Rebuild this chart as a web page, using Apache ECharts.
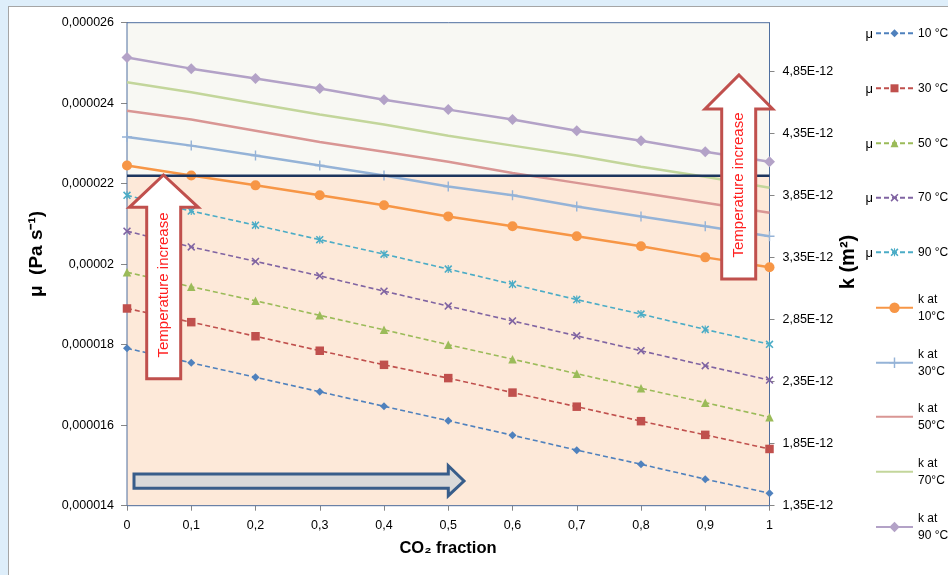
<!DOCTYPE html>
<html>
<head>
<meta charset="utf-8">
<script src="https://cdn.jsdelivr.net/npm/echarts@6/dist/echarts.min.js"></script>
<style>
html,body{margin:0;padding:0;background:#deeefa;overflow:hidden;}
#frame{position:absolute;left:8px;top:6px;width:940px;height:569px;background:#ffffff;border-left:1px solid #a5a5a5;border-top:1px solid #a5a5a5;box-sizing:border-box;}
#chart{position:absolute;left:0;top:0;width:948px;height:575px;}
</style>
</head>
<body>
<div id="frame"></div>
<div id="chart"></div>
<script>
// ---------------- DATA ----------------
const co2Fraction = [0, 0.1, 0.2, 0.3, 0.4, 0.5, 0.6, 0.7, 0.8, 0.9, 1];

// Viscosity mu (Pa s) — left axis
const muAt10 = [1.791e-5, 1.755e-5, 1.719e-5, 1.683e-5, 1.647e-5, 1.611e-5, 1.575e-5, 1.538e-5, 1.503e-5, 1.466e-5, 1.431e-5];
const muAt30 = [1.890e-5, 1.856e-5, 1.821e-5, 1.785e-5, 1.750e-5, 1.717e-5, 1.681e-5, 1.646e-5, 1.610e-5, 1.576e-5, 1.541e-5];
const muAt50 = [1.980e-5, 1.944e-5, 1.909e-5, 1.873e-5, 1.837e-5, 1.800e-5, 1.764e-5, 1.728e-5, 1.692e-5, 1.656e-5, 1.620e-5];
const muAt70 = [2.082e-5, 2.043e-5, 2.007e-5, 1.971e-5, 1.933e-5, 1.896e-5, 1.859e-5, 1.822e-5, 1.785e-5, 1.748e-5, 1.712e-5];
const muAt90 = [2.171e-5, 2.132e-5, 2.097e-5, 2.061e-5, 2.025e-5, 1.988e-5, 1.950e-5, 1.912e-5, 1.876e-5, 1.838e-5, 1.801e-5];

// Permeability k, in units of 1E-12 m² — right axis
const kAt10_e12 = [4.09, 4.01, 3.93, 3.85, 3.77, 3.68, 3.60, 3.52, 3.44, 3.35, 3.27];
const kAt30_e12 = [4.32, 4.25, 4.17, 4.09, 4.01, 3.92, 3.85, 3.76, 3.68, 3.60, 3.52];
const kAt50_e12 = [4.53, 4.46, 4.37, 4.28, 4.20, 4.12, 4.03, 3.95, 3.87, 3.79, 3.71];
const kAt70_e12 = [4.76, 4.68, 4.59, 4.50, 4.42, 4.33, 4.25, 4.17, 4.08, 4.00, 3.91];
const kAt90_e12 = [4.96, 4.87, 4.79, 4.71, 4.62, 4.54, 4.46, 4.37, 4.29, 4.20, 4.12];

// Axis ticks
const muTicks = [0.000014, 0.000016, 0.000018, 0.00002, 0.000022, 0.000024, 0.000026];
const kTicks_e12 = [1.35, 1.85, 2.35, 2.85, 3.35, 3.85, 4.35, 4.85];
const kAxisMax_e12 = 5.24;
const bandSplitMu = 0.0000222;   // boundary between the two shaded regions

const muNames = ['μ 10 °C', 'μ 30 °C', 'μ 50 °C', 'μ 70 °C', 'μ 90 °C'];
const kNames = ['k at 10°C', 'k at 30°C', 'k at 50°C', 'k at 70°C', 'k at 90 °C'];

// ---------------- STYLE ----------------
const FONT = '"Liberation Sans", Arial, sans-serif';
const pts = arr => arr.map((v, i) => [co2Fraction[i], v]);
const X_PATH = 'path://M0,1.4L1.4,0L10,8.6L8.6,10Z M8.6,0L10,1.4L1.4,10L0,8.6Z';
const STAR_PATH = 'path://M0,1.4L1.4,0L10,8.6L8.6,10Z M8.6,0L10,1.4L1.4,10L0,8.6Z M4.3,0H5.7V10H4.3Z';
const PLUS_PATH = 'path://M4.3,0H5.7V10H4.3Z M0,4.3H10V5.7H0Z';

const muStyles = [
  {color: '#4f81bd', symbol: 'diamond', size: 8},
  {color: '#c0504d', symbol: 'rect', size: 8.5},
  {color: '#9bbb59', symbol: 'triangle', size: 8.5},
  {color: '#8064a2', symbol: X_PATH, size: 8},
  {color: '#4bacc6', symbol: STAR_PATH, size: 8}
];
const kStyles = [
  {color: '#f79646', symbol: 'circle', size: 10},
  {color: '#95b3d7', symbol: PLUS_PATH, size: 10},
  {color: '#d99694', symbol: 'none', size: 0},
  {color: '#c3d69b', symbol: 'none', size: 0},
  {color: '#b3a2c7', symbol: 'diamond', size: 11}
];
const muData = [muAt10, muAt30, muAt50, muAt70, muAt90];
const kData = [kAt10_e12, kAt30_e12, kAt50_e12, kAt70_e12, kAt90_e12];

const series = [];
kNames.forEach((name, i) => {
  const s = kStyles[i];
  series.push({
    name, type: 'line', yAxisIndex: 1, data: pts(kData[i]),
    symbol: s.symbol, symbolSize: s.size, showAllSymbol: true,
    color: s.color,
    lineStyle: {color: s.color, width: 2.5},
    itemStyle: {color: s.color},
    z: 3
  });
});
muNames.forEach((name, i) => {
  const s = muStyles[i];
  const ser = {
    name, type: 'line', yAxisIndex: 0, data: pts(muData[i]),
    symbol: s.symbol, symbolSize: s.size, showAllSymbol: true,
    color: s.color,
    lineStyle: {color: s.color, width: 1.6, type: [5, 3]},
    itemStyle: {color: s.color},
    z: 2
  };
  if (i === 0) {
    ser.markArea = {
      silent: true, z: 1,
      data: [
        [{yAxis: bandSplitMu, itemStyle: {color: '#f8f8f3', borderColor: '#4f6f9f', borderWidth: 1}}, {yAxis: muTicks[muTicks.length - 1]}],
        [{yAxis: muTicks[0], itemStyle: {color: '#fde9d9', borderColor: '#4f6f9f', borderWidth: 1}}, {yAxis: bandSplitMu}]
      ]
    };
  }
  series.push(ser);
});

// Legend: one component per entry
const legendRowsY = [33.3, 88.3, 143.3, 197.7, 252.3, 307.7, 362.7, 416.7, 471.7, 527];
const legendOrder = muNames.concat(kNames);
const legends = legendOrder.map((name, i) => {
  const isMu = i < 5;
  if (isMu) {
    return {
      data: [name], left: 875, top: legendRowsY[i] - 7, padding: 0,
      itemWidth: 37, itemHeight: 10, selectedMode: false,
      formatter: n => n.replace('μ ', ''),
      textStyle: {fontFamily: FONT, fontSize: 12, color: '#000', lineHeight: 14}
    };
  }
  const noMarker = kStyles[i - 5].symbol === 'none';
  const lg = {
    data: [name], left: 875, top: legendRowsY[i] - 25.5, padding: 0,
    itemWidth: 37, itemHeight: 13, selectedMode: false,
    formatter: n => n.replace('k at ', 'k at\n'),
    textStyle: {fontFamily: FONT, fontSize: 12, color: '#000', lineHeight: 17,
      padding: [17, 0, 0, 0], backgroundColor: 'rgba(255,255,255,0)'}
  };
  if (noMarker) lg.itemStyle = {opacity: 0};
  return lg;
});

const graphics = [];
// "μ" prefixes in legend
for (let i = 0; i < 5; i++) {
  graphics.push({type: 'text', z: 50, x: 873, y: legendRowsY[i] + 1,
    style: {text: 'μ', fontFamily: FONT, fontSize: 13, fill: '#000', align: 'right', verticalAlign: 'middle'}});
}
// Temperature-increase arrows
graphics.push({type: 'polygon', z: 100,
  shape: {points: [[163.5, 175], [198.3, 207.3], [180.7, 207.3], [180.7, 378.7], [146.7, 378.7], [146.7, 207.3], [129.3, 207.3]]},
  style: {fill: '#ffffff', stroke: '#c0504d', lineWidth: 3}});
graphics.push({type: 'text', z: 101, x: 163.6, y: 285, rotation: Math.PI / 2,
  style: {text: 'Temperature increase', fontFamily: FONT, fontSize: 15, fill: '#ff1f1f', align: 'center', verticalAlign: 'middle'}});
graphics.push({type: 'polygon', z: 100,
  shape: {points: [[739, 75], [772.7, 109], [755.7, 109], [755.7, 279], [721.7, 279], [721.7, 109], [705, 109]]},
  style: {fill: '#ffffff', stroke: '#c0504d', lineWidth: 3}});
graphics.push({type: 'text', z: 101, x: 739, y: 185, rotation: Math.PI / 2,
  style: {text: 'Temperature increase', fontFamily: FONT, fontSize: 15, fill: '#ff1f1f', align: 'center', verticalAlign: 'middle'}});
// CO2 direction arrow
graphics.push({type: 'polygon', z: 100,
  shape: {points: [[134, 474], [448.3, 474], [448.3, 465.7], [464, 481], [448.3, 495.7], [448.3, 488.3], [134, 488.3]]},
  style: {fill: '#d9d9d9', stroke: '#385d8a', lineWidth: 3}});
// Axis titles
graphics.push({type: 'text', z: 50, x: 37, y: 254, rotation: Math.PI / 2,
  style: {text: 'μ  (Pa s⁻¹)', fontFamily: FONT, fontSize: 19, fontWeight: 'bold', fill: '#000', align: 'center', verticalAlign: 'middle'}});
graphics.push({type: 'text', z: 50, x: 848, y: 262, rotation: Math.PI / 2,
  style: {text: 'k (m²)', fontFamily: FONT, fontSize: 20, fontWeight: 'bold', fill: '#000', align: 'center', verticalAlign: 'middle'}});
graphics.push({type: 'text', z: 50, x: 448, y: 548,
  style: {text: 'CO₂ fraction', fontFamily: FONT, fontSize: 16.5, fontWeight: 'bold', fill: '#000', align: 'center', verticalAlign: 'middle'}});

const axisLabelStyle = {fontFamily: FONT, fontSize: 12.5, color: '#000'};

const option = {
  animation: false,
  backgroundColor: 'transparent',
  grid: {left: 127, right: 178.5, top: 22.7, bottom: 69.3, outerBoundsMode: 'none', containLabel: false},
  xAxis: {
    type: 'value', min: 0, max: 1, interval: 0.1,
    axisLine: {show: true, lineStyle: {color: '#868686', width: 1}},
    axisTick: {show: true, length: 5, lineStyle: {color: '#868686'}},
    axisLabel: Object.assign({margin: 13, formatter: v => String(+v.toFixed(1)).replace('.', ',')}, axisLabelStyle),
    splitLine: {show: false}
  },
  yAxis: [
    {
      type: 'value', position: 'left', min: muTicks[0], max: muTicks[muTicks.length - 1], interval: 0.000002,
      axisLine: {show: true, lineStyle: {color: '#4a6b9c', width: 1}},
      axisTick: {show: true, length: 6, lineStyle: {color: '#868686'}},
      axisLabel: Object.assign({margin: 13, formatter: v => String(+(+v).toFixed(6)).replace('.', ',')}, axisLabelStyle),
      splitLine: {show: false}
    },
    {
      type: 'value', position: 'right', min: kTicks_e12[0], max: kAxisMax_e12,
      axisLine: {show: true, lineStyle: {color: '#4a6b9c', width: 1}},
      axisTick: {show: true, length: 5, lineStyle: {color: '#868686'}, customValues: kTicks_e12},
      axisLabel: Object.assign({margin: 13, customValues: kTicks_e12,
        formatter: v => (+v).toFixed(2).replace('.', ',') + 'E-12'}, axisLabelStyle),
      splitLine: {show: false}
    }
  ],
  legend: legends,
  graphic: graphics,
  series: series
};

const chart = echarts.init(document.getElementById('chart'), null, {renderer: 'canvas'});
chart.setOption(option);

// Dark boundary line between the two shaded regions, placed through the axis scales
const pLeft = chart.convertToPixel({xAxisIndex: 0, yAxisIndex: 0}, [0, bandSplitMu]);
const pRight = chart.convertToPixel({xAxisIndex: 0, yAxisIndex: 0}, [1, bandSplitMu]);
graphics.push({type: 'line', id: 'bandSplitLine', z: 40,
  shape: {x1: pLeft[0], y1: pLeft[1], x2: pRight[0], y2: pRight[1]},
  style: {stroke: '#1c355e', lineWidth: 2.5}});
chart.setOption({graphic: graphics});
</script>
</body>
</html>
